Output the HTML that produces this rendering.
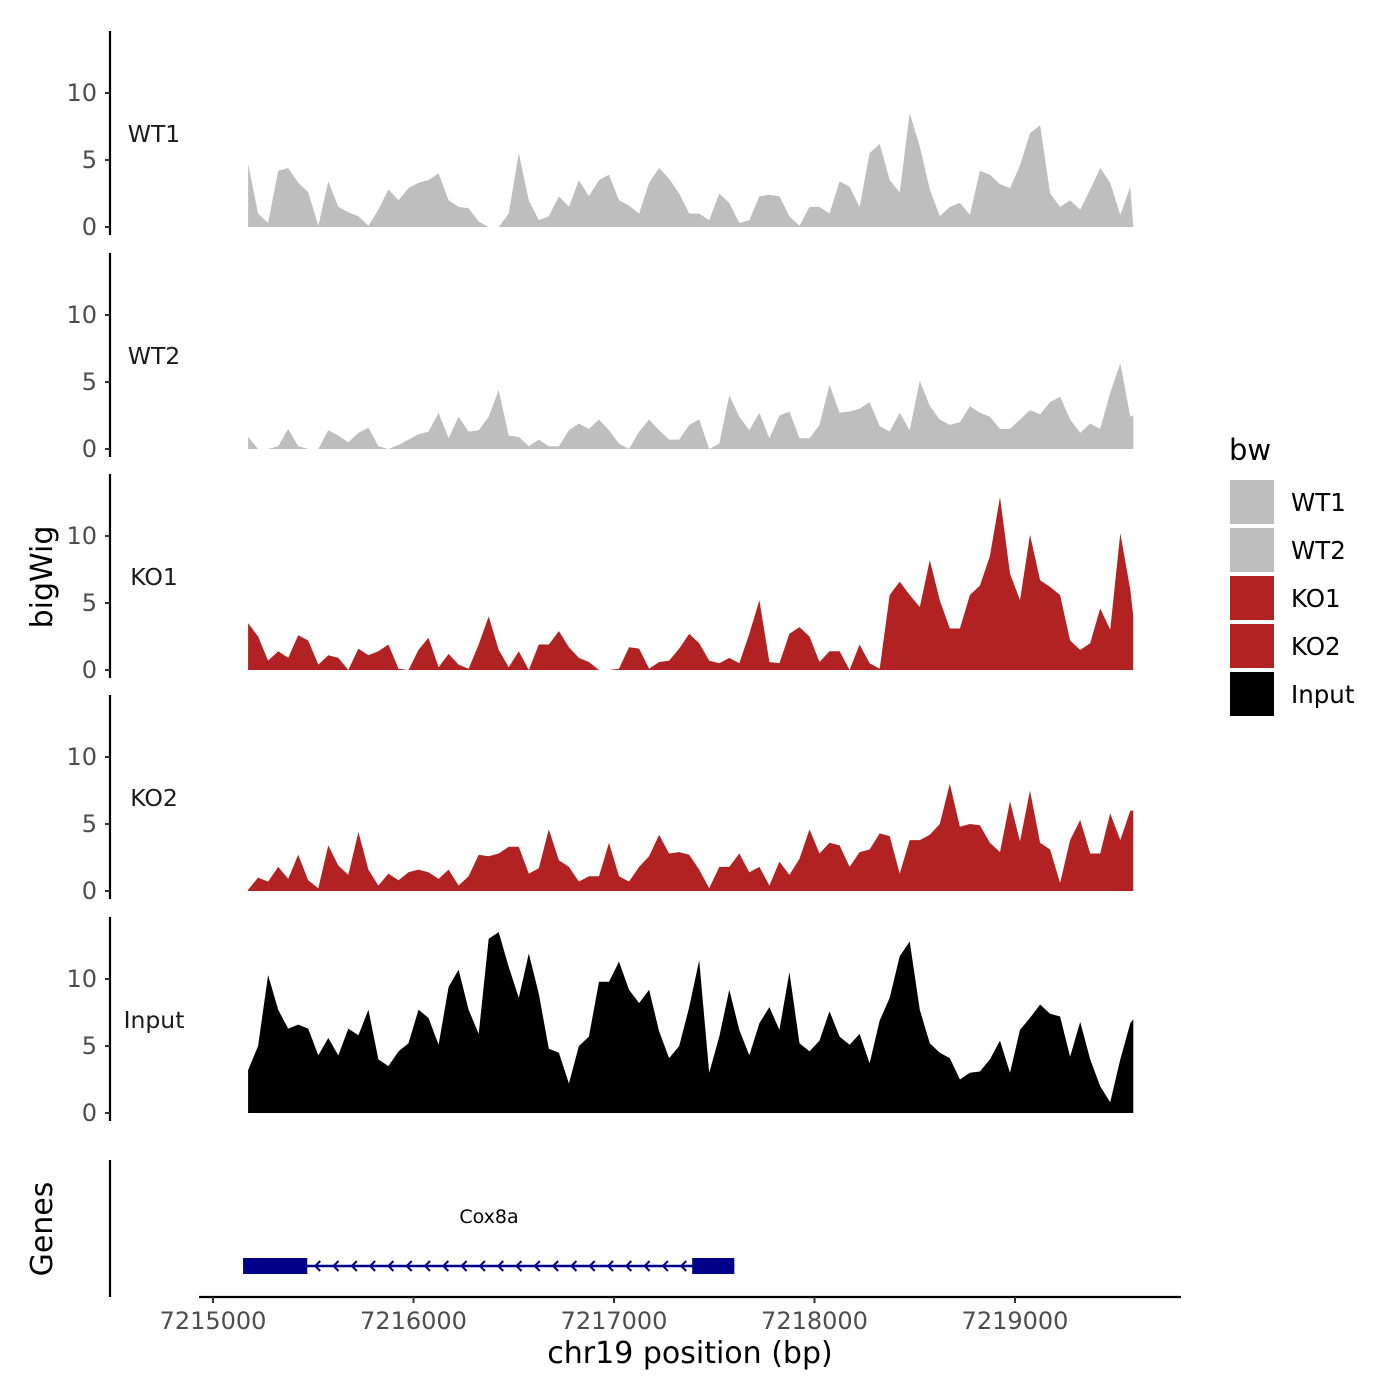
<!DOCTYPE html>
<html><head><meta charset="utf-8"><style>
html,body{margin:0;padding:0;background:#fff;}
svg{display:block;font-family:"DejaVu Sans","Liberation Sans",sans-serif;}
</style></head><body>
<svg id="chart" width="1400" height="1400" viewBox="0 0 1400 1400"></svg>
<script>
const trackNames = ["WT1","WT2","KO1","KO2","Input"];
const trackColors = ["#bebebe","#bebebe","#b22222","#b22222","#000000"];
const yTicks = [0,5,10];
const xTicks = [7215000,7216000,7217000,7218000,7219000];
const xTickLabels = ["7215000","7216000","7217000","7218000","7219000"];
const binStart = 7215175;
const binSize = 50;
const regionEnd = 7219590;
const wt1 = [4.7,1.0,0.3,4.2,4.4,3.3,2.6,0.1,3.4,1.5,1.1,0.8,0.1,1.3,2.8,2.0,2.9,3.3,3.5,4.0,2.0,1.5,1.4,0.4,0,0,1.0,5.5,2.0,0.5,0.8,2.3,1.5,3.5,2.3,3.5,3.9,2.0,1.6,1.0,3.3,4.4,3.6,2.5,1.0,1.0,0.5,2.5,1.8,0.3,0.5,2.3,2.4,2.3,0.8,0.1,1.5,1.5,1.0,3.4,3.0,1.5,5.5,6.2,3.5,2.6,8.5,6.0,2.8,0.8,1.5,1.8,0.9,4.2,3.9,3.2,2.9,4.6,7.0,7.6,2.5,1.5,2.0,1.3,2.8,4.4,3.3,0.9,3.0,0];
const wt2 = [0.9,0,0,0.2,1.5,0.2,0,0,1.4,1.0,0.5,1.2,1.6,0.2,0,0.3,0.7,1.1,1.3,2.7,0.8,2.4,1.3,1.4,2.4,4.4,1.0,0.9,0.2,0.7,0.2,0.2,1.4,1.9,1.5,2.2,1.4,0.4,0,1.3,2.2,1.4,0.7,0.7,1.8,2.2,0,0.4,4.0,2.4,1.4,2.7,0.8,2.5,2.8,0.8,0.8,1.8,4.8,2.7,2.8,3.0,3.5,1.7,1.3,2.7,1.4,5.1,3.2,2.2,1.8,2.0,3.2,2.7,2.4,1.5,1.5,2.2,2.9,2.6,3.5,3.9,2.2,1.2,1.9,1.5,4.2,6.4,2.4,2.5];
const ko1 = [3.5,2.5,0.7,1.4,0.9,2.6,2.2,0.4,1.1,0.9,0,1.6,1.1,1.4,1.9,0.1,0,1.5,2.4,0.2,1.2,0.4,0.1,1.9,4.0,1.5,0.2,1.4,0,1.9,1.9,2.9,1.7,0.9,0.6,0,0,0.1,1.7,1.6,0.1,0.6,0.7,1.6,2.7,2.0,0.7,0.5,0.9,0.5,2.7,5.2,0.6,0.5,2.7,3.2,2.5,0.6,1.4,1.4,0,1.9,0.5,0.1,5.6,6.6,5.6,4.7,8.2,5.2,3.1,3.1,5.6,6.3,8.5,12.9,7.2,5.2,10.1,6.7,6.2,5.6,2.2,1.5,2.0,4.6,3.0,10.2,6.0,4.0];
const ko2 = [0.1,1.0,0.7,1.8,0.9,2.7,0.8,0.2,3.4,1.9,1.2,4.4,1.6,0.4,1.3,0.8,1.4,1.6,1.4,0.9,1.6,0.4,1.1,2.7,2.6,2.8,3.3,3.3,1.3,1.7,4.6,2.3,1.8,0.7,1.1,1.1,3.6,1.1,0.7,1.8,2.6,4.2,2.8,2.9,2.7,1.6,0.2,1.8,1.8,2.8,1.4,1.8,0.4,2.2,1.2,2.4,4.6,2.8,3.6,3.4,1.8,2.9,3.1,4.3,4.1,1.3,3.8,3.8,4.2,5.0,8.0,4.8,5.0,4.9,3.6,2.9,6.7,3.7,7.5,3.6,3.1,0.6,3.8,5.3,2.8,2.8,5.8,3.8,6.0,6.0];
const input = [3.2,5.0,10.3,7.7,6.3,6.6,6.3,4.3,5.6,4.3,6.3,5.8,7.7,4.0,3.5,4.6,5.2,7.7,7.1,5.1,9.4,10.7,7.7,5.9,13.0,13.5,10.9,8.6,11.9,8.9,4.8,4.5,2.2,5.0,5.7,9.8,9.8,11.3,9.2,8.2,9.2,6.1,4.1,5.0,7.9,11.4,3.0,5.7,9.2,6.2,4.3,6.7,7.9,6.2,10.5,5.2,4.6,5.4,7.6,5.7,5.1,5.9,3.7,6.9,8.6,11.7,12.8,7.7,5.2,4.5,4.1,2.5,3.0,3.1,4.0,5.4,3.0,6.2,7.1,8.1,7.4,7.2,4.2,6.8,4.0,2.0,0.8,4.0,6.7,7.0];
const trackValues = [wt1,wt2,ko1,ko2,input];
const geneExons = [[7215150,7215470],[7217390,7217600]];
const geneSpan = [7215150,7217600];

const NS="http://www.w3.org/2000/svg";
const svg=document.getElementById('chart');
function el(tag,attrs,parent){const e=document.createElementNS(NS,tag);for(const k in attrs)e.setAttribute(k,attrs[k]);(parent||svg).appendChild(e);return e;}
const xScale=v=>213+(v-7215000)*0.2005;
const zeros=[227,449,670,891,1113];
const yScale=(i,v)=>zeros[i]-v*13.4;
function positionsFor(n){const p=[];for(let k=0;k<n-1;k++)p.push(binStart+k*binSize);p.push(regionEnd);return p;}

trackNames.forEach((name,i)=>{
  const g=el('g',{});
  
  
  const vals=trackValues[i];
  const pos=positionsFor(vals.length);
  let d='M'+xScale(pos[0])+','+zeros[i];
  pos.forEach((p,k)=>{d+=' L'+xScale(p).toFixed(1)+','+yScale(i,vals[k]).toFixed(1);});
  d+=' L'+xScale(pos[pos.length-1])+','+zeros[i]+' Z';
  const a=el('path',{d:d,fill:trackColors[i],'stroke-linejoin':'round'},g);
  
  
  const ax=el('line',{x1:110,x2:110,y1:zeros[i]-196,y2:zeros[i]+8,stroke:'#000','stroke-width':2.2},g);
  
  
  yTicks.forEach(t=>{
    const y=yScale(i,t);
    el('line',{x1:105,x2:110,y1:y,y2:y,stroke:'#333','stroke-width':2},g);
    const tx=el('text',{x:97,y:y+8,'text-anchor':'end','font-size':24,fill:'#4d4d4d'},g);
    tx.textContent=t;
    
    
  });
  const lb=el('text',{x:154,y:zeros[i]-85,'text-anchor':'middle','font-size':23.5,fill:'#1a1a1a'},g);
  lb.textContent=name;
  
  
});

const yt=el('text',{x:0,y:0,transform:'translate(52,577) rotate(-90)','text-anchor':'middle','font-size':30,fill:'#000'});
yt.textContent='bigWig';



const gg=el('g',{});


el('line',{x1:110,x2:110,y1:1160,y2:1297,stroke:'#000','stroke-width':2.2},gg);
const gt=el('text',{x:0,y:0,transform:'translate(52,1229) rotate(-90)','text-anchor':'middle','font-size':30,fill:'#000'},gg);
gt.textContent='Genes';


const gl=el('line',{x1:xScale(geneSpan[0]),x2:xScale(geneSpan[1]),y1:1266,y2:1266,stroke:'#00008b','stroke-width':2.5},gg);


for(let x=xScale(geneExons[0][1])+8;x<xScale(geneExons[1][0]);x+=18.3){
  el('path',{d:`M${x+5},${1261} L${x},${1266} L${x+5},${1271}`,stroke:'#00008b','stroke-width':2,fill:'none'},gg);
}
geneExons.forEach((e,k)=>{
  const r=el('rect',{x:xScale(e[0]),y:1258,width:xScale(e[1])-xScale(e[0]),height:16,fill:'#00008b'},gg);
  
  
});
const gn=el('text',{x:489,y:1223,'text-anchor':'middle','font-size':19,fill:'#000'},gg);
gn.textContent='Cox8a';



const xa=el('line',{x1:199,x2:1181,y1:1297,y2:1297,stroke:'#000','stroke-width':2.2});


xTicks.forEach((t,k)=>{
  const x=xScale(t);
  el('line',{x1:x,x2:x,y1:1297,y2:1303,stroke:'#333','stroke-width':2});
  const tx=el('text',{x:x,y:1329,'text-anchor':'middle','font-size':24,fill:'#4d4d4d'});
  tx.textContent=xTickLabels[k];
  
  
});
const xt=el('text',{x:690,y:1363,'text-anchor':'middle','font-size':30,fill:'#000'});
xt.textContent='chr19 position (bp)';



const lg=el('g',{});


const lt=el('text',{x:1229,y:460,'font-size':29,fill:'#000'},lg);
lt.textContent='bw';


trackNames.forEach((n,k)=>{
  const y=480+k*48;
  const r=el('rect',{x:1230,y:y,width:44,height:44,fill:trackColors[k]},lg);
  
  
  const t=el('text',{x:1291,y:y+31,'font-size':24.5,fill:'#000'},lg);
  t.textContent=n;
  
  
});
</script>
</body></html>
